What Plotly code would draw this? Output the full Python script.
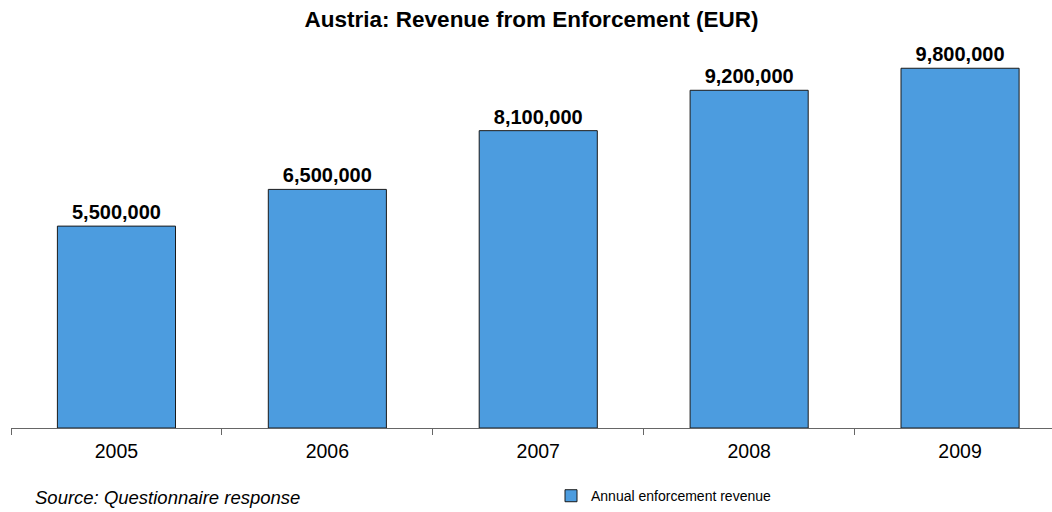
import plotly.graph_objects as go

years = ["2005", "2006", "2007", "2008", "2009"]
revenue = [5500000, 6500000, 8100000, 9200000, 9800000]
labels = [f"{v:,}" for v in revenue]

FONT = "Liberation Sans, Arial, sans-serif"

fig = go.Figure()
fig.add_trace(go.Bar(
    x=years,
    y=revenue,
    name="Annual enforcement revenue",
    width=0.56,
    marker=dict(color="#4c9cdf", line=dict(color="#1a1a1a", width=1)),
    text=labels,
    textposition="outside",
    cliponaxis=False,
    textfont=dict(family=FONT, size=20, color="#000000"),
    texttemplate="<b>%{text}</b>",
))

fig.update_layout(
    width=1052,
    height=512,
    margin=dict(l=11, r=0, t=40, b=84, autoexpand=False),
    paper_bgcolor="white",
    plot_bgcolor="white",
    font=dict(family=FONT, color="#000000"),
    title=dict(
        text="<b>Austria: Revenue from Enforcement (EUR)</b>",
        x=0.5, xanchor="center", xref="paper",
        y=0.963, yanchor="middle", yref="container",
        font=dict(size=22.5),
    ),
    showlegend=True,
    legend=dict(
        orientation="h",
        x=(551 - 11) / (1052 - 11), xanchor="left", xref="paper",
        y=0.031, yref="container", yanchor="middle",
        font=dict(size=14),
        bgcolor="rgba(0,0,0,0)",
    ),
    bargap=0.44,
)

fig.update_xaxes(
    type="category",
    range=[-0.5, 4.436],
    automargin=False,
    showline=True, linecolor="#666666", linewidth=1,
    ticks="outside", tickson="boundaries", ticklen=6, tickcolor="#666666",
    tickfont=dict(size=19.5),
    ticklabelstandoff=6,
    showgrid=False, zeroline=False,
)
fig.update_yaxes(
    range=[0, 10570000],
    visible=False,
    automargin=False,
    showgrid=False, zeroline=False,
)

fig.add_annotation(
    text="<i>Source: Questionnaire response</i>",
    xref="paper", yref="paper",
    x=0.021, y=-0.178, xanchor="left", yanchor="middle",
    showarrow=False,
    font=dict(size=18.5),
)

fig.write_html("out.html")
